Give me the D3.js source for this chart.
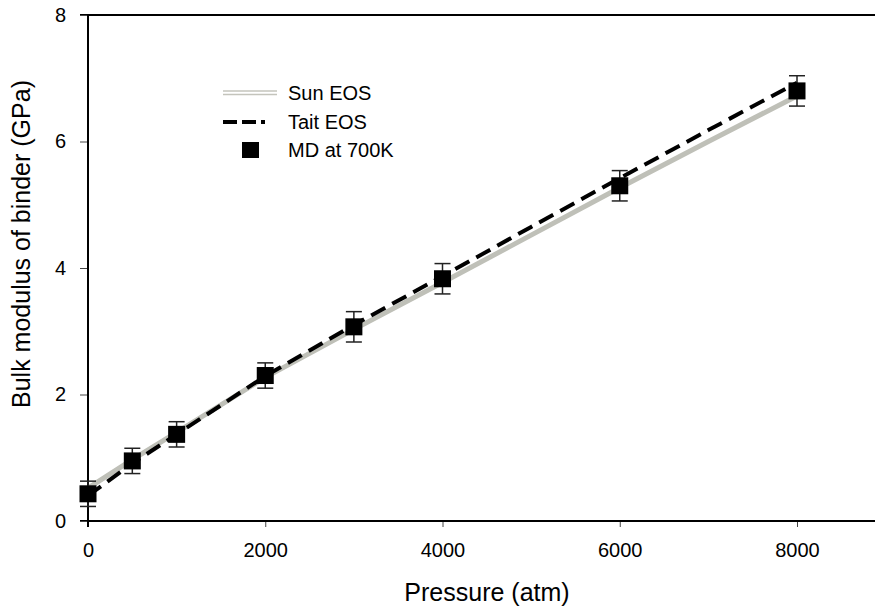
<!DOCTYPE html>
<html>
<head>
<meta charset="utf-8">
<script src="https://cdn.jsdelivr.net/npm/d3@7"></script>
<style>
  body { margin: 0; background: #fff; }
  text { font-family: "Liberation Sans", Arial, sans-serif; fill: #000; }
</style>
</head>
<body>
<div id="chart"></div>
<script>
// Data
let mdPressure = [0, 500, 1000, 2000, 3000, 4000, 6000, 8000];
let mdModulus = [0.43, 0.95, 1.37, 2.30, 3.07, 3.83, 5.30, 6.80];
let mdError = [0.20, 0.20, 0.20, 0.20, 0.24, 0.24, 0.24, 0.24];

let eosPressure = [0, 500, 1000, 2000, 3000, 4000, 5000, 6000, 7000, 8000];
let sunModulus = [0.52, 0.97, 1.40, 2.27, 3.03, 3.77, 4.52, 5.27, 6.00, 6.72];
let taitModulus = [0.40, 0.91, 1.37, 2.29, 3.10, 3.87, 4.65, 5.42, 6.18, 6.93];

let xTicks = [0, 2000, 4000, 6000, 8000];
let yTicks = [0, 2, 4, 6, 8];

let width = 875;
let height = 608;
let fontFamily = '"Liberation Sans", Arial, sans-serif';

let svg = d3.select('#chart')
    .append('svg')
    .attr('width', width)
    .attr('height', height);

// Scales
let x = d3.scaleLinear().domain([0, 8000]).range([88, 797]);
let y = d3.scaleLinear().domain([0, 8]).range([521, 15]);

// Top frame line
svg.append('line')
    .attr('x1', 80).attr('x2', width)
    .attr('y1', y(8)).attr('y2', y(8))
    .attr('stroke', '#000').attr('stroke-width', 2);

// Axes
let xAxis = svg.append('g')
    .attr('transform', 'translate(0,' + y(0) + ')')
    .call(d3.axisBottom(x).tickValues(xTicks).tickFormat(d3.format('d'))
        .tickSize(6).tickPadding(16).tickSizeOuter(0));
xAxis.select('.domain').remove();
xAxis.append('line')
    .attr('x1', 80).attr('x2', width)
    .attr('stroke', '#000').attr('stroke-width', 2);
xAxis.selectAll('.tick line').attr('stroke', '#444');
xAxis.selectAll('.tick text').style('font-size', '20px').style('font-family', fontFamily);

let yAxis = svg.append('g')
    .attr('transform', 'translate(' + x(0) + ',0)')
    .call(d3.axisLeft(y).tickValues(yTicks).tickSize(8).tickPadding(14).tickSizeOuter(0));
yAxis.select('.domain').remove();
yAxis.append('line')
    .attr('y1', y(0) + 6).attr('y2', y(8))
    .attr('stroke', '#000').attr('stroke-width', 2);
yAxis.selectAll('.tick line').attr('stroke', '#444');
yAxis.selectAll('.tick text').style('font-size', '20px').style('font-family', fontFamily);

// Axis titles
svg.append('text')
    .attr('x', 487).attr('y', 601)
    .attr('text-anchor', 'middle')
    .style('font-size', '25px')
    .text('Pressure (atm)');

svg.append('text')
    .attr('transform', 'translate(30,244) rotate(-90)')
    .attr('text-anchor', 'middle')
    .style('font-size', '25px')
    .text('Bulk modulus of binder (GPa)');

// Lines
let eosLine = d3.line()
    .x(function(d, i) { return x(eosPressure[i]); })
    .y(function(d) { return y(d); });

svg.append('path')
    .datum(sunModulus)
    .attr('d', eosLine)
    .attr('fill', 'none')
    .attr('stroke', '#bfc0b8')
    .attr('stroke-width', 5);

svg.append('path')
    .datum(taitModulus)
    .attr('d', eosLine)
    .attr('fill', 'none')
    .attr('stroke', '#000')
    .attr('stroke-width', 4)
    .attr('stroke-dasharray', '16,8');

// Error bars
let bars = svg.append('g')
    .selectAll('g')
    .data(mdPressure)
    .enter()
    .append('g')
    .attr('stroke', '#222')
    .attr('stroke-width', 1.5);

bars.append('line')
    .attr('x1', function(d) { return x(d); })
    .attr('x2', function(d) { return x(d); })
    .attr('y1', function(d, i) { return y(mdModulus[i] + mdError[i]); })
    .attr('y2', function(d, i) { return y(mdModulus[i] - mdError[i]); });

bars.append('line')
    .attr('x1', function(d) { return x(d) - 8; })
    .attr('x2', function(d) { return x(d) + 8; })
    .attr('y1', function(d, i) { return y(mdModulus[i] + mdError[i]); })
    .attr('y2', function(d, i) { return y(mdModulus[i] + mdError[i]); });

bars.append('line')
    .attr('x1', function(d) { return x(d) - 8; })
    .attr('x2', function(d) { return x(d) + 8; })
    .attr('y1', function(d, i) { return y(mdModulus[i] - mdError[i]); })
    .attr('y2', function(d, i) { return y(mdModulus[i] - mdError[i]); });

// MD squares
svg.append('g')
    .selectAll('rect')
    .data(mdPressure)
    .enter()
    .append('rect')
    .attr('x', function(d) { return x(d) - 8.5; })
    .attr('y', function(d, i) { return y(mdModulus[i]) - 8.5; })
    .attr('width', 17)
    .attr('height', 17)
    .attr('fill', '#000');

// Legend
let legend = svg.append('g');

legend.append('line')
    .attr('x1', 223).attr('x2', 277).attr('y1', 91).attr('y2', 91)
    .attr('stroke', '#c4c4bc').attr('stroke-width', 1.5);
legend.append('line')
    .attr('x1', 223).attr('x2', 277).attr('y1', 94.5).attr('y2', 94.5)
    .attr('stroke', '#c4c4bc').attr('stroke-width', 1.5);
legend.append('text')
    .attr('x', 288).attr('y', 100)
    .style('font-size', '20px')
    .text('Sun EOS');

legend.append('line')
    .attr('x1', 223).attr('x2', 277).attr('y1', 122).attr('y2', 122)
    .attr('stroke', '#000').attr('stroke-width', 4)
    .attr('stroke-dasharray', '14,5,14,5,4,20');
legend.append('text')
    .attr('x', 288).attr('y', 129)
    .style('font-size', '20px')
    .text('Tait EOS');

legend.append('rect')
    .attr('x', 242).attr('y', 142).attr('width', 17).attr('height', 16)
    .attr('fill', '#000');
legend.append('text')
    .attr('x', 288).attr('y', 157)
    .style('font-size', '20px')
    .text('MD at 700K');
</script>
</body>
</html>
